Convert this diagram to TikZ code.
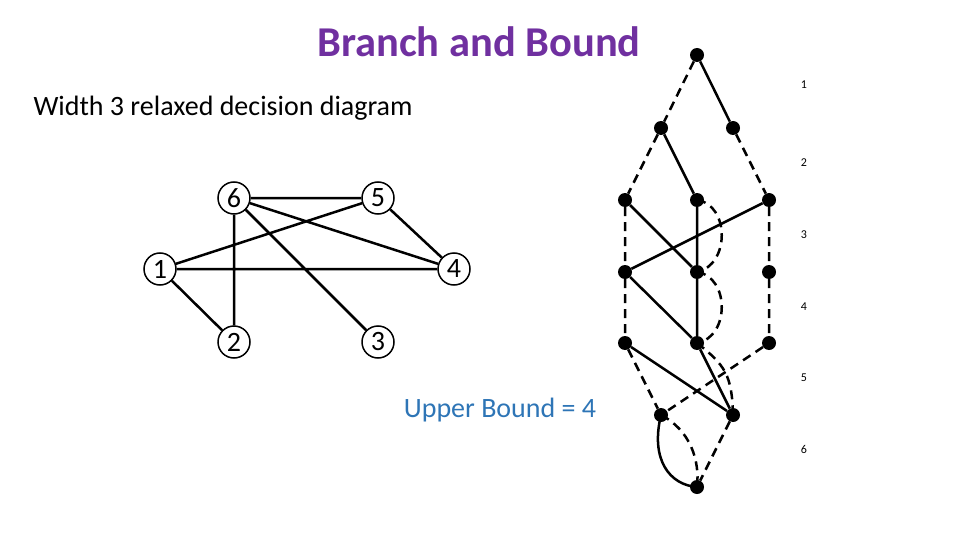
\documentclass[tikz,border=0pt]{standalone}
\usepackage{fontspec}
\setmainfont{Carlito}
\begin{document}
\begin{tikzpicture}[x=1pt,y=-1pt,
  v/.style={circle,draw,line width=1.5pt,inner sep=0pt,minimum size=32pt,font=\fontsize{28}{28}\selectfont},
  dot/.style={circle,fill,inner sep=0pt,minimum size=14pt},
  e/.style={line width=2.5pt},
  d/.style={line width=2.5pt,dash pattern=on 9pt off 6pt},
  lab/.style={font=\fontsize{12}{12}\selectfont}]
\useasboundingbox (0,0) rectangle (960,540);
\node[font=\bfseries\fontsize{42.5}{42.5}\selectfont,text={rgb,255:red,112;green,48;blue,160}] (title) at (479,42) {Branch and Bound};
\node[font=\fontsize{28}{28}\selectfont,anchor=west] (w) at (30,108) {Width 3 relaxed decision diagram};
\node[font=\fontsize{28}{28}\selectfont,text={rgb,255:red,46;green,117;blue,182}] (ub) at (500,410) {Upper Bound = 4};
% graph
\node[v] (g6) at (234,198) {6};
\node[v] (g5) at (378,198) {5};
\node[v] (g1) at (160,269) {1};
\node[v] (g4) at (454,269) {4};
\node[v] (g2) at (234,342) {2};
\node[v] (g3) at (378,342) {3};
\draw[e] (g6)--(g5) (g6)--(g2) (g6)--(g4) (g6)--(g3) (g5)--(g1) (g5)--(g4) (g1)--(g4) (g1)--(g2);
% DD
\node[dot] (r) at (697,55) {};
\node[dot] (a) at (661,128) {};
\node[dot] (b) at (733,128) {};
\node[dot] (c) at (625,200) {};
\node[dot] (dd) at (697,200) {};
\node[dot] (ee) at (769,200) {};
\node[dot] (f) at (625,272) {};
\node[dot] (g) at (697,272) {};
\node[dot] (h) at (769,272) {};
\node[dot] (i) at (625,343) {};
\node[dot] (j) at (697,343) {};
\node[dot] (k) at (769,343) {};
\node[dot] (l) at (661,415) {};
\node[dot] (m) at (733,415) {};
\node[dot] (t) at (697,487) {};
\draw[d] (r)--(a) (a)--(c) (b)--(ee) (c)--(f) (ee)--(h) (f)--(i) (h)--(k) (i)--(l) (k)--(l) (m)--(t);
\draw[e] (r)--(b) (a)--(dd) (c)--(g) (dd)--(g) (ee)--(f) (f)--(j) (g)--(j) (i)--(m) (j)--(m);
\draw[d] (dd.center) .. controls (730,205) and (730,265) .. (g.center);
\draw[d] (g.center) .. controls (730,277) and (730,337) .. (j.center);
\draw[d] (j.center) .. controls (725,365) and (732,375) .. (m.center);
\draw[e] (l.center) .. controls (650,460) and (670,485) .. (t.center);
\draw[d] (l.center) .. controls (690,430) and (700,460) .. (t.center);
\foreach \n/\y in {1/85,2/163,3/235,4/307,5/378,6/449} \node[lab] (lv\n) at (804,\y) {\n};
\end{tikzpicture}
\end{document}
